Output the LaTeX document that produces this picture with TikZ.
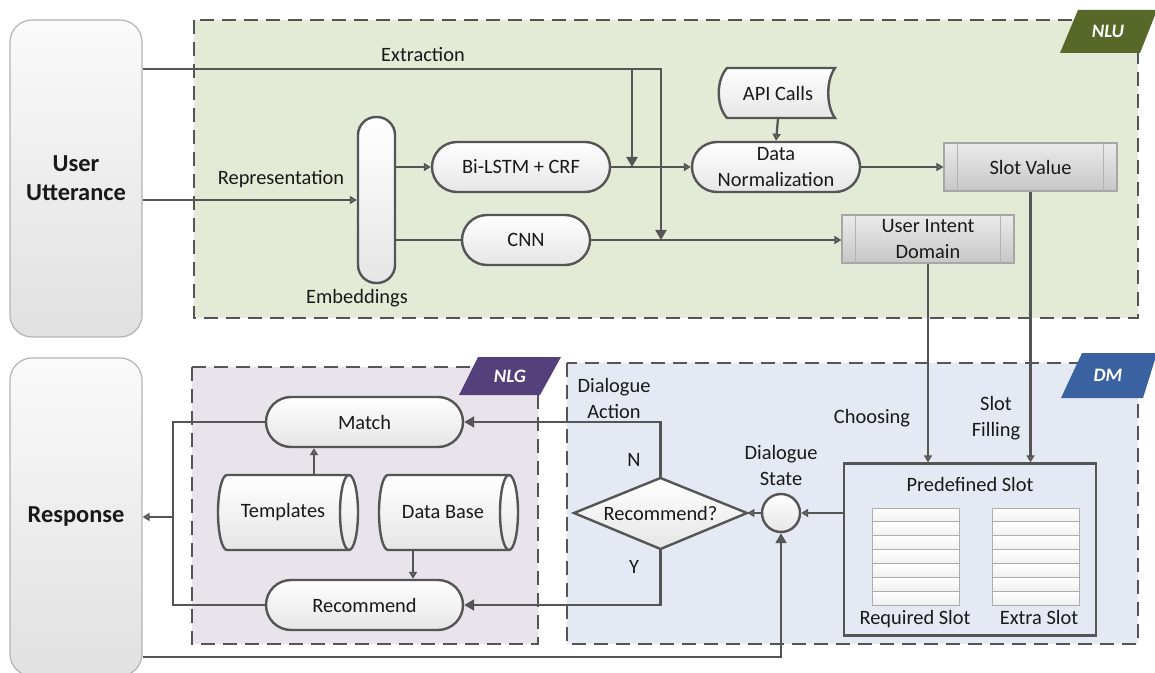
\documentclass[tikz,border=0pt]{standalone}
\usepackage{fontspec}
\setmainfont{Carlito}
\usetikzlibrary{arrows.meta,shapes.misc,calc}

\definecolor{ln}{RGB}{85,85,85}
\definecolor{lnlight}{RGB}{150,150,150}
\definecolor{txt}{RGB}{25,25,25}
\definecolor{nlubg}{RGB}{227,234,214}
\definecolor{nlgbg}{RGB}{233,227,235}
\definecolor{dmbg}{RGB}{228,233,243}
\definecolor{nlutag}{RGB}{88,104,40}
\definecolor{nlgtag}{RGB}{84,64,122}
\definecolor{dmtag}{RGB}{58,98,160}
\definecolor{boxedge}{RGB}{180,180,180}

\tikzset{
  conn/.style={draw=ln, line width=1.1pt},
  arrS/.style={-{Triangle[length=3.5pt,width=4pt,fill=lnlight]}},
  arrL/.style={-{Triangle[length=5pt,width=5.5pt]}},
  zone/.style={draw=ln, line width=1.2pt, dash pattern=on 7pt off 4pt},
  stad/.style={rounded rectangle, draw=ln, line width=1.2pt, top color=white,
    bottom color=black!10, text=txt, inner sep=1pt},
  pbox/.style={rectangle, draw=black!35, line width=0.6pt, top color=black!8,
    bottom color=black!22, text=txt, inner sep=1pt, align=center},
  side/.style={rectangle, rounded corners=11pt, draw=boxedge, line width=0.6pt,
    top color=black!2, bottom color=black!12, text=txt,
    font=\fontsize{12.2}{14.5}\selectfont\bfseries, align=center},
  lbl/.style={text=txt, align=center, inner sep=0pt},
  tagtxt/.style={text=white, font=\fontsize{9.5}{11}\selectfont\bfseries\itshape},
  shp/.style={draw=ln, line width=1.2pt, top color=white, bottom color=black!10},
}

\begin{document}
\begin{tikzpicture}[x=0.5pt, y=-0.5pt, font=\fontsize{10.2}{13}\selectfont]
\useasboundingbox (0,0) rectangle (1155,673);
\fill[white] (0,0) rectangle (1155,673);

% ---------- side boxes ----------
\node[side, minimum width=66pt, minimum height=158.5pt] (uu) at (76,178.5) {User\\Utterance};
\node[side, minimum width=66pt, minimum height=159pt] (resp) at (76,517) {Response};

% ---------- zones ----------
\path[fill=nlubg] (194,20) rectangle (1138,318);
\draw[zone] (194,20) rectangle (1138,318);
\path[fill=nlgbg] (192,367) rectangle (538,644);
\draw[zone] (192,367) rectangle (538,644);
\path[fill=dmbg] (567,363) rectangle (1138,644);
\draw[zone] (567,363) rectangle (1138,644);

% zone tags
\fill[nlutag] (1060,53) -- (1078,10) -- (1157,10) -- (1140,53) -- cycle;
\node[tagtxt] (nlutagtxt) at (1108,31) {NLU};
\fill[nlgtag] (459,395) -- (478,357) -- (561,357) -- (540,395) -- cycle;
\node[tagtxt] (nlgtagtxt) at (510,376) {NLG};
\fill[dmtag] (1061,398) -- (1082,353) -- (1157,353) -- (1143,398) -- cycle;
\node[tagtxt] (dmtagtxt) at (1108,375) {DM};

% ---------- NLU ----------
\node[draw=ln, line width=1.2pt, rounded corners=9pt, minimum width=18.5pt,
  minimum height=83pt, top color=white, bottom color=black!10] (emb) at (376.5,200) {};
\node[lbl] (embl) at (357,298) {Embeddings};

\node[stad, minimum width=91pt, minimum height=25pt] (bil) at (521,167) {Bi-LSTM + CRF};
\node[stad, minimum width=66pt, minimum height=25pt] (cnn) at (526,240) {CNN};
\node[stad, minimum width=86pt, minimum height=25pt, align=center] (dn) at (776,167) {Data\\Normalization};

% API Calls (stored data outline)
\path[shp] (727,68) -- (835,68) .. controls (826,80) and (826,106) .. (835,118)
  -- (727,118) .. controls (716,106) and (716,80) .. (727,68) -- cycle;
\node[minimum width=54pt, minimum height=25pt, inner sep=0pt, text=txt] (api) at (778,93) {API Calls};

\node[pbox, minimum width=86.5pt, minimum height=24pt] (sv) at (1030.5,167) {Slot Value};
\node[pbox, minimum width=86pt, minimum height=24pt] (uid) at (928,239) {User Intent\\Domain};
\foreach \b in {sv,uid}{
  \draw[black!30, line width=0.5pt] ([xshift=7pt]\b.north west) -- ([xshift=7pt]\b.south west);
  \draw[black!30, line width=0.5pt] ([xshift=-7pt]\b.north east) -- ([xshift=-7pt]\b.south east);
}

\coordinate (ext) at (661,69);
\coordinate (exb) at (632,69);
\node[lbl] (extl) at (423,55) {Extraction};
\node[lbl] (repl) at (281,179) {Representation};

\draw[conn, arrL] (uu.east |- ext) -- (ext) -- (ext |- cnn.east);
\draw[conn, arrL] (exb) -- (exb |- bil.east);
\draw[conn, arrS] (uu.east |- emb.west) -- (emb.west);
\draw[conn, arrS] (emb.east |- bil.west) -- (bil.west);
\draw[conn] (emb.east |- cnn.west) -- (cnn.west);
\draw[conn, arrS] (bil.east) -- (dn.west);
\draw[conn, arrS] (api.south) -- (dn.north);
\draw[conn, arrS] (dn.east) -- (dn.east -| sv.west);
\draw[conn, arrS] (cnn.east) -- (cnn.east -| uid.west);

% ---------- DM ----------
\node[draw=ln, line width=1.2pt, minimum width=126pt, minimum height=86pt] (pre) at (970,549.5) {};
\node[lbl] (prel) at (970,484) {Predefined Slot};
\foreach \x in {872,992}{
  \foreach \r in {0,...,6}{
    \path[draw=black!32, line width=0.5pt, top color=white, bottom color=black!6]
      (\x,508+\r*13.86) rectangle (\x+87,508+\r*13.86+13.86);
  }
}
\node[lbl, anchor=base] (reql) at (915,624) {Required Slot};
\node[lbl, anchor=base] (extral) at (1039,624) {Extra Slot};

\node[circle, draw=ln, line width=1.2pt, minimum size=19pt, inner sep=0pt,
  top color=white, bottom color=black!10] (ds) at (781,513) {};
\node[lbl] (dsl) at (781,465) {Dialogue\\State};

\path[shp] (574,513) -- (660.5,478) -- (747,513) -- (660.5,549) -- cycle;
\node[minimum width=86.5pt, minimum height=35.5pt, inner sep=0pt, text=txt] (dia) at (660.5,513) {Recommend?};

\node[lbl] (dal) at (614,398) {Dialogue\\Action};
\node[lbl] (nl) at (634,460) {N};
\node[lbl] (yl) at (634,567) {Y};
\node[lbl] (chl) at (872,418) {Choosing};
\node[lbl] (sfl) at (996,418) {Slot\\Filling};

\draw[conn, arrS] (uid.south) -- (uid.south |- pre.north);
\draw[conn, arrS] (sv.south) -- (sv.south |- pre.north);
\draw[conn, arrS] (ds.east -| pre.west) -- (ds.east);
\draw[conn, arrS] (ds.west) -- (dia.east);

% ---------- NLG ----------
\node[stad, minimum width=100.5pt, minimum height=25pt] (match) at (364.5,422) {Match};
\node[stad, minimum width=100.5pt, minimum height=25pt] (recn) at (364.5,605) {Recommend};

% Templates cylinder
\path[shp] (227,475) -- (349,475) .. controls (354,475) and (358,491.8) .. (358,512.5)
  .. controls (358,533.2) and (354,550) .. (349,550) -- (227,550)
  .. controls (222,550) and (218,533.2) .. (218,512.5)
  .. controls (218,491.8) and (222,475) .. (227,475) -- cycle;
\draw[ln, line width=1.2pt] (349,475) .. controls (344,475) and (340,491.8) .. (340,512.5)
  .. controls (340,533.2) and (344,550) .. (349,550);
\node[minimum width=70pt, minimum height=37.5pt, inner sep=0pt, text=txt] (tmpl) at (283,512.5) {Templates};

% Data Base cylinder
\path[shp] (388,475) -- (509,475) .. controls (514,475) and (518,491.8) .. (518,512.5)
  .. controls (518,533.2) and (514,550) .. (509,550) -- (388,550)
  .. controls (383,550) and (379,533.2) .. (379,512.5)
  .. controls (379,491.8) and (383,475) .. (388,475) -- cycle;
\draw[ln, line width=1.2pt] (509,475) .. controls (504,475) and (500,491.8) .. (500,512.5)
  .. controls (500,533.2) and (504,550) .. (509,550);
\node[minimum width=60pt, minimum height=37.5pt, inner sep=0pt, text=txt] (db) at (443,512.5) {Data Base};

\draw[conn, arrS] ([xshift=15.5pt]tmpl.north) -- ([xshift=15.5pt]tmpl.north |- match.south);
\draw[conn, arrS] ([xshift=-15pt]db.south) -- ([xshift=-15pt]db.south |- recn.north);

\draw[conn, arrL] (dia.north) -- (dia.north |- match.east) -- (match.east);
\draw[conn, arrL] (dia.south) -- (dia.south |- recn.east) -- (recn.east);

\coordinate (jn) at (173,517);
\draw[conn] (match.west) -- (match.west -| jn) -- (recn.west -| jn) -- (recn.west);
\draw[conn, arrS] (jn) -- (resp.east |- jn);

\coordinate (bt) at (0,657);
\draw[conn, arrL] (resp.east |- bt) -- (bt -| ds.south) -- (ds.south);
\end{tikzpicture}
\end{document}
